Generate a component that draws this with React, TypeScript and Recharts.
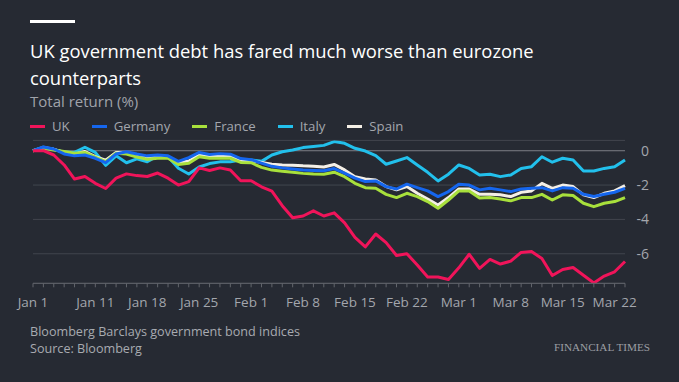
import React from 'react';
import { LineChart, Line, XAxis, YAxis, CartesianGrid, ReferenceLine } from 'recharts';

const dates = [
  'Jan 1', 'Jan 4', 'Jan 5', 'Jan 6', 'Jan 7', 'Jan 8',
  'Jan 11', 'Jan 12', 'Jan 13', 'Jan 14', 'Jan 15',
  'Jan 18', 'Jan 19', 'Jan 20', 'Jan 21', 'Jan 22',
  'Jan 25', 'Jan 26', 'Jan 27', 'Jan 28', 'Jan 29',
  'Feb 1', 'Feb 2', 'Feb 3', 'Feb 4', 'Feb 5',
  'Feb 8', 'Feb 9', 'Feb 10', 'Feb 11', 'Feb 12',
  'Feb 15', 'Feb 16', 'Feb 17', 'Feb 18', 'Feb 19',
  'Feb 22', 'Feb 23', 'Feb 24', 'Feb 25', 'Feb 26',
  'Mar 1', 'Mar 2', 'Mar 3', 'Mar 4', 'Mar 5',
  'Mar 8', 'Mar 9', 'Mar 10', 'Mar 11', 'Mar 12',
  'Mar 15', 'Mar 16', 'Mar 17', 'Mar 18', 'Mar 19',
  'Mar 22', 'Mar 23',
];

const tickLabels = ['Jan 1', 'Jan 11', 'Jan 18', 'Jan 25', 'Feb 1', 'Feb 8', 'Feb 15', 'Feb 22', 'Mar 1', 'Mar 8', 'Mar 15', 'Mar 22'];
const yTicks = [-6, -4, -2, 0];

const uk = [
  0, 0, -0.25, -0.83, -1.65, -1.5, -1.9, -2.2, -1.6, -1.35,
  -1.45, -1.5, -1.3, -1.6, -2.0, -1.8, -1.0, -1.15, -1.0, -1.12,
  -1.75, -1.75, -2.1, -2.35, -3.2, -3.9, -3.8, -3.5, -3.8, -3.62,
  -4.2, -5.05, -5.6, -4.85, -5.35, -6.1, -6.0, -6.65, -7.35, -7.35,
  -7.5, -6.82, -6.03, -6.85, -6.33, -6.6, -6.43, -5.92, -5.87, -6.28,
  -7.27, -6.92, -6.8, -7.25, -7.7, -7.3, -7.05, -6.45,
];

const germany = [
  0, 0.22, 0.1, -0.19, -0.3, -0.25, -0.44, -0.7, -0.19, -0.06,
  -0.19, -0.3, -0.25, -0.3, -0.62, -0.4, -0.1, -0.22, -0.17, -0.2,
  -0.46, -0.52, -0.72, -0.91, -1.0, -1.07, -1.13, -1.15, -1.17, -1.04,
  -1.31, -1.6, -1.8, -1.76, -2.09, -2.23, -1.95, -2.15, -2.34, -2.67,
  -2.38, -1.95, -2.0, -2.28, -2.19, -2.28, -2.38, -2.23, -2.19, -2.15,
  -2.34, -2.15, -2.19, -2.54, -2.67, -2.54, -2.42, -2.19,
];

const france = [
  0, 0.15, 0.04, -0.05, -0.15, -0.1, -0.37, -0.64, -0.15, -0.19,
  -0.37, -0.5, -0.44, -0.44, -0.8, -0.73, -0.35, -0.44, -0.44, -0.44,
  -0.68, -0.7, -0.97, -1.13, -1.2, -1.26, -1.32, -1.36, -1.37, -1.25,
  -1.51, -1.9, -2.15, -2.19, -2.54, -2.73, -2.48, -2.67, -2.96, -3.35,
  -2.87, -2.34, -2.34, -2.75, -2.73, -2.81, -2.92, -2.73, -2.73, -2.54,
  -2.87, -2.57, -2.61, -3.06, -3.26, -3.06, -2.96, -2.73,
];

const italy = [
  0, 0.2, 0.08, -0.08, -0.1, 0.2, -0.1, -0.85, -0.3, -0.7,
  -0.47, -0.64, -0.3, -0.35, -1.02, -1.36, -0.95, -0.75, -0.65, -0.64,
  -0.54, -0.54, -0.62, -0.25, -0.06, 0.04, 0.18, 0.25, 0.31, 0.53,
  0.43, 0.14, -0.02, -0.29, -0.79, -0.6, -0.4, -0.83, -1.26, -1.76,
  -1.37, -0.83, -1.03, -1.42, -1.37, -1.51, -1.41, -1.03, -0.93, -0.35,
  -0.67, -0.44, -0.54, -1.18, -1.18, -1.03, -0.93, -0.54,
];

const spain = [
  0, 0.18, 0.08, -0.1, -0.2, -0.05, -0.35, -0.55, -0.1, -0.1,
  -0.25, -0.35, -0.3, -0.35, -0.7, -0.6, -0.25, -0.35, -0.3, -0.32,
  -0.55, -0.58, -0.68, -0.79, -0.83, -0.84, -0.88, -0.9, -0.95, -0.8,
  -1.12, -1.51, -1.64, -1.7, -2.09, -2.28, -2.09, -2.48, -2.81, -3.16,
  -2.73, -2.23, -2.23, -2.54, -2.54, -2.57, -2.67, -2.42, -2.34, -1.9,
  -2.19, -2.0, -2.09, -2.57, -2.73, -2.48, -2.34, -2.03,
];

const series = [
  { key: 'UK', values: uk, color: '#f0145a' },
  { key: 'Germany', values: germany, color: '#1566ee' },
  { key: 'France', values: france, color: '#a8e03c' },
  { key: 'Italy', values: italy, color: '#22c0ec' },
  { key: 'Spain', values: spain, color: '#f4efe6' },
];

const drawOrder = ['Italy', 'Spain', 'France', 'Germany', 'UK'];

const data = dates.map((d, i) => {
  const row: Record<string, number | string> = { date: d };
  series.forEach((s) => {
    row[s.key] = s.values[i];
  });
  return row;
});

const FONT = '"Open Sans", "Noto Sans", sans-serif';
const GREY = '#a3a6ad';

const XTick = (props: any) => {
  const { x, y, payload } = props;
  if (!tickLabels.includes(payload.value)) return <g />;
  return (
    <text x={x} y={y} dy={12} textAnchor="middle" fill={GREY} fontSize={13.5} fontFamily={FONT}>
      {payload.value}
    </text>
  );
};

const YTick = (props: any) => {
  const { x, y, payload } = props;
  return (
    <text x={x} y={y} dy={5} textAnchor="end" fill={GREY} fontSize={14} fontFamily={FONT}>
      {payload.value}
    </text>
  );
};

export default function App() {
  return (
    <div
      style={{
        position: 'absolute',
        left: 0,
        top: 0,
        width: 679,
        height: 382,
        background: '#262a33',
        overflow: 'hidden',
        fontFamily: FONT,
      }}
    >
      <div style={{ position: 'absolute', left: 0, top: 0 }}>
        <LineChart
          width={679}
          height={382}
          data={data}
          margin={{ top: 140.4, right: 24, bottom: 68.7, left: 33 }}
        >
          <CartesianGrid horizontal vertical={false} stroke="#41454e" strokeWidth={1} />
          <ReferenceLine y={0} stroke="#74777e" strokeWidth={1} />
          <XAxis
            dataKey="date"
            interval={0}
            height={30}
            tickSize={4}
            tickMargin={8}
            axisLine={{ stroke: '#62656c' }}
            tickLine={{ stroke: '#62656c' }}
            tick={<XTick />}
          />
          <YAxis
            orientation="right"
            width={30}
            domain={[-7.72, 0.6]}
            ticks={yTicks}
            allowDataOverflow
            axisLine={false}
            tickLine={false}
            tickSize={0}
            tickMargin={24}
            tick={<YTick />}
          />
          {drawOrder.map((k) => {
            const s = series.find((z) => z.key === k)!;
            return (
              <Line
                key={k}
                type="linear"
                dataKey={k}
                stroke={s.color}
                strokeWidth={3}
                dot={false}
                isAnimationActive={false}
                strokeLinejoin="round"
              />
            );
          })}
        </LineChart>
      </div>

      <div style={{ position: 'absolute', left: 30, top: 20, width: 45, height: 3, background: '#ffffff' }} />
      <div
        style={{
          position: 'absolute',
          left: 30,
          top: 37,
          width: 600,
          color: '#ffffff',
          fontSize: 18.4,
          lineHeight: '27px',
        }}
      >
        UK government debt has fared much worse than eurozone counterparts
      </div>
      <div style={{ position: 'absolute', left: 30, top: 90, color: '#a0a3aa', fontSize: 15, lineHeight: '22px' }}>
        Total return (%)
      </div>
      <div style={{ position: 'absolute', left: 30, top: 116, display: 'flex', alignItems: 'center', height: 20 }}>
        {series.map((s) => (
          <div key={s.key} style={{ display: 'flex', alignItems: 'center', marginRight: 22 }}>
            <div style={{ width: 15, height: 3, background: s.color, marginRight: 7 }} />
            <span style={{ color: GREY, fontSize: 13.2, lineHeight: '20px' }}>{s.key}</span>
          </div>
        ))}
      </div>
      <div style={{ position: 'absolute', left: 30, top: 323, color: '#a8abb1', fontSize: 12.6, lineHeight: '17px' }}>
        <div>Bloomberg Barclays government bond indices</div>
        <div>Source: Bloomberg</div>
      </div>
      <div
        style={{
          position: 'absolute',
          right: 29,
          top: 341,
          color: '#9c9ea3',
          fontSize: 11.2,
          fontFamily: '"Liberation Serif", "DejaVu Serif", serif',
        }}
      >
        FINANCIAL TIMES
      </div>
    </div>
  );
}
